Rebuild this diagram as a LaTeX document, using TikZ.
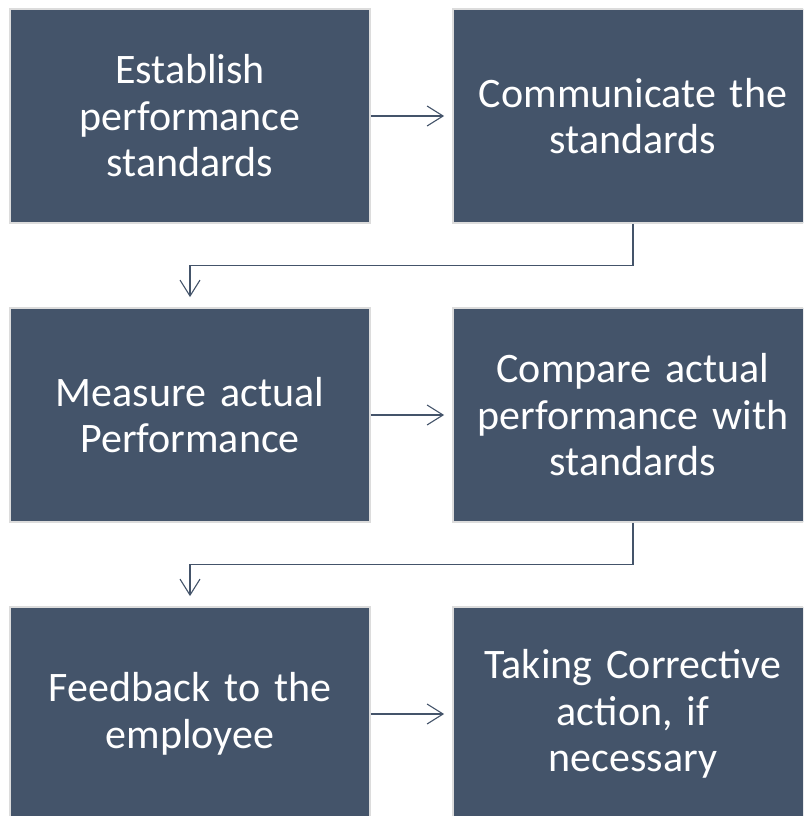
\documentclass[tikz,border=0pt]{standalone}
\usepackage{fontspec}
\setmainfont{Carlito}
\usepackage{tikz}
\usetikzlibrary{arrows.meta}

\definecolor{boxblue}{HTML}{44546A}
\definecolor{boxrim}{HTML}{DCDCDC}

\tikzset{
	stepbox/.style={draw=boxrim, line width=1.8pt, fill=boxblue, text=white,
		minimum width=360pt, minimum height=214pt, text width=330pt,
		inner sep=0pt, align=center, font=\fontsize{42}{46.5}\selectfont},
	conn/.style={draw=boxblue, line width=1.1pt, shorten >=8pt,
		-{Straight Barb[length=16pt,width=20pt]}}
}

\begin{document}
\begin{tikzpicture}[x=1pt,y=-1pt]
	\useasboundingbox (0,0) rectangle (803,816);
	\clip (0,0) rectangle (803,816);
	\node[stepbox] (A1) at (190,116) {Establish\\performance\\standards};
	\node[stepbox] (A2) at (633,116) {Communicate the\\standards};
	\node[stepbox] (B1) at (190,415) {Measure actual\\Performance};
	\node[stepbox] (B2) at (633,415) {Compare actual\\performance with\\standards};
	\node[stepbox] (C1) at (190,714) {Feedback to the\\employee};
	\node[stepbox] (C2) at (633,714) {Taking Corrective\\action, if\\necessary};
	\draw [conn](A1)--(A2);
	\draw [conn, shorten >=10pt](A2.south)--++(0,42)-|(B1.north);
	\draw [conn](B1)--(B2);
	\draw [conn, shorten >=10pt](B2.south)--++(0,42)-|(C1.north);
	\draw [conn](C1)--(C2);
	
\end{tikzpicture}
\end{document}
